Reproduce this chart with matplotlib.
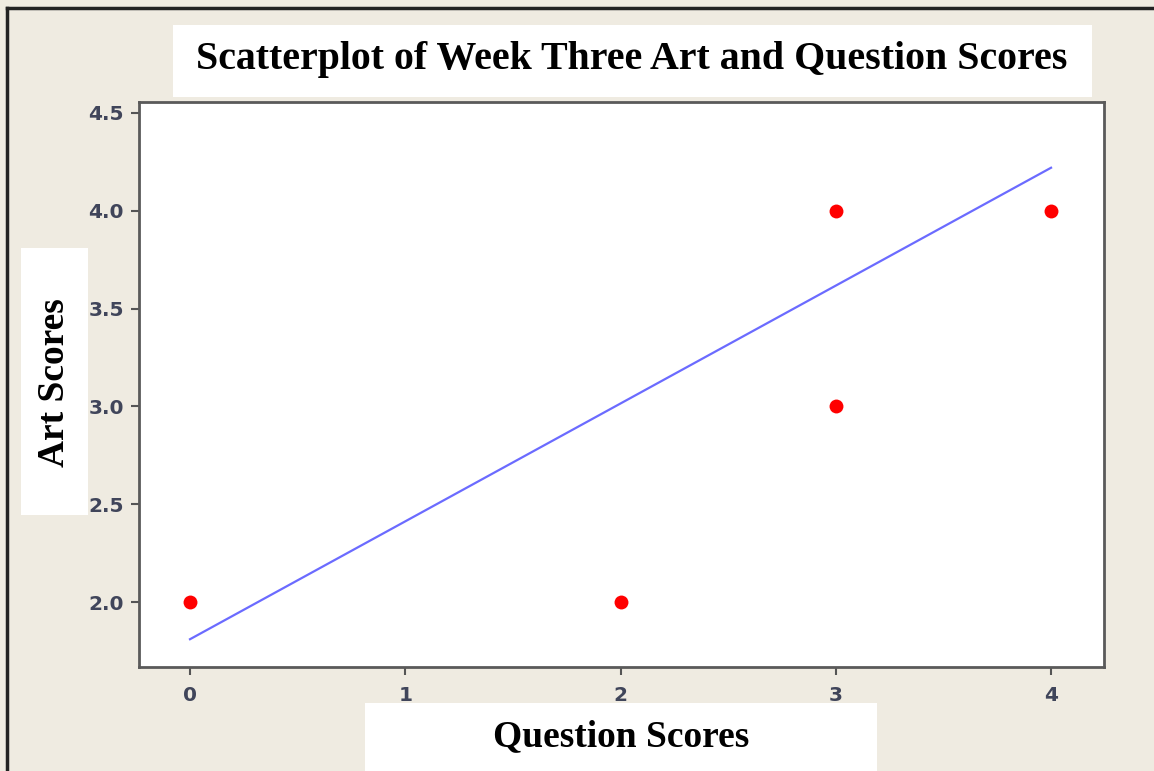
import matplotlib
matplotlib.use("Agg")
import matplotlib.pyplot as plt
from matplotlib.patches import Rectangle

# dati
question_scores = [0, 2, 3, 3, 4]
art_scores = [2.0, 2.0, 4.0, 3.0, 4.0]
# retta di regressione (estremi)
fit_x = [0, 4]
fit_y = [1.81, 4.22]

x_ticks = [0, 1, 2, 3, 4]
y_ticks = [2.0, 2.5, 3.0, 3.5, 4.0, 4.5]

W, H = 1154, 771
BEIGE = "#efebe1"

fig = plt.figure(figsize=(W / 100, H / 100), dpi=100, facecolor=BEIGE)
ax = fig.add_axes([139 / W, 1 - 667 / H, (1104 - 139) / W, (667 - 102) / H])
ax.set_facecolor("white")

ax.plot(fit_x, fit_y, color="#6b6bff", lw=1.6, zorder=2)
ax.plot(question_scores, art_scores, "o", color="#ff0000", ms=10,
        mec="none", zorder=3)

ax.set_xlim(-0.237, 4.246)
ax.set_ylim(1.668, 4.556)
ax.set_xticks(x_ticks)
ax.set_xticklabels([str(v) for v in x_ticks])
ax.set_yticks(y_ticks)
ax.set_yticklabels([f"{v:.1f}" for v in y_ticks])
ax.tick_params(direction="out", length=6, width=1.5, color="#555555",
               labelcolor="#40455a", labelsize=14.5)
ax.tick_params(axis="x", pad=8)
ax.tick_params(axis="y", pad=5)
for lab in ax.get_xticklabels() + ax.get_yticklabels():
    lab.set_fontweight("bold")
for s in ax.spines.values():
    s.set_color("#5a5a5a")
    s.set_linewidth(2)

# cornice esterna (sinistra e alto)
fig.add_artist(plt.Line2D([7 / W, 7 / W], [0, 1 - 8 / H], transform=fig.transFigure,
                          color="#222222", lw=2.5))
fig.add_artist(plt.Line2D([7 / W, 1], [1 - 8 / H, 1 - 8 / H], transform=fig.transFigure,
                          color="#222222", lw=2.5))

serif = ["Liberation Serif", "DejaVu Serif"]

# riquadri bianchi con titolo ed etichette
def box(x0, y0, x1, y1):
    fig.add_artist(Rectangle((x0 / W, 1 - y1 / H), (x1 - x0) / W, (y1 - y0) / H,
                             transform=fig.transFigure, facecolor="white",
                             edgecolor="none", zorder=5))

box(173, 25, 1092, 97)
fig.text(632 / W, 1 - 60 / H, "Scatterplot of Week Three Art and Question Scores",
         ha="center", va="center", fontsize=28.7, fontweight="bold",
         family=serif, zorder=6)

box(21, 248, 88, 515)
fig.text(55 / W, 1 - 383 / H, "Art Scores", rotation=90, ha="center", va="center",
         fontsize=27, fontweight="bold", family=serif, zorder=6)

box(365, 703, 877, 771)
fig.text(621 / W, 1 - 737 / H, "Question Scores", ha="center", va="center",
         fontsize=27, fontweight="bold", family=serif, zorder=6)

fig.savefig("out.png", dpi=100, facecolor=BEIGE)
